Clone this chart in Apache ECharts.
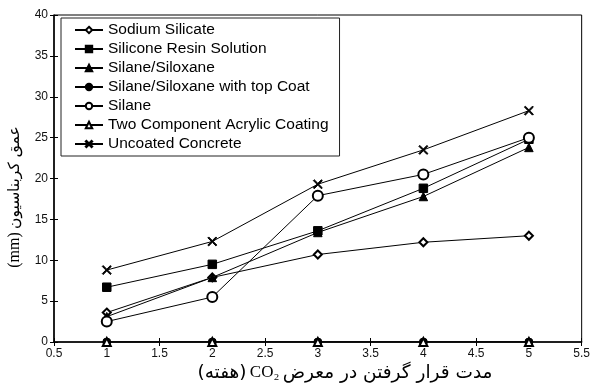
<!DOCTYPE html>
<html><head><meta charset="utf-8">
<script src="https://cdn.jsdelivr.net/npm/echarts@6/dist/echarts.min.js"></script>
<style>html,body{margin:0;padding:0;background:#fff}#c{width:593px;height:387px}</style>
</head><body><div id="c"></div>
<script>
const weeks = [1, 2, 3, 4, 5];
const sodiumSilicate = [3.6, 7.9, 10.7, 12.2, 13.0];
const siliconeResin = [6.7, 9.5, 13.6, 18.8, 24.8];
const silaneSiloxane = [3.1, 7.9, 13.4, 17.8, 23.8];
const silaneSiloxaneTopCoat = [0, 0, 0, 0, 0];
const silane = [2.5, 5.5, 17.9, 20.5, 25.0];
const acrylicCoating = [0, 0, 0, 0, 0];
const uncoatedConcrete = [8.8, 12.3, 19.3, 23.5, 28.3];
const seriesNames = ['Sodium Silicate', 'Silicone Resin Solution', 'Silane/Siloxane',
  'Silane/Siloxane with top Coat', 'Silane', 'Two Component Acrylic Coating', 'Uncoated Concrete'];

const xPath = 'path://M0,1L1,0L5,4L9,0L10,1L6,5L10,9L9,10L5,6L1,10L0,9L4,5Z';
const defs = [
  [sodiumSilicate, 'emptyDiamond', 8],
  [siliconeResin, 'rect', 8.5],
  [silaneSiloxane, 'triangle', 8.5],
  [silaneSiloxaneTopCoat, 'circle', 8],
  [silane, 'emptyCircle', 10],
  [acrylicCoating, 'emptyTriangle', 8],
  [uncoatedConcrete, xPath, 9]
];
const pair = arr => weeks.map((w, i) => [w, arr[i]]);

const chart = echarts.init(document.getElementById('c'), null, {renderer: 'canvas'});
const axisFont = {fontFamily: 'Liberation Sans, Arial', fontSize: 12, color: '#111'};
chart.setOption({
  animation: false,
  grid: {left: 54, right: 7, top: 15, bottom: 45, show: true, borderColor: '#000', borderWidth: 1},
  legend: {
    orient: 'vertical', left: 61, top: 18,
    padding: [3, 11, 3, 13], itemGap: 1, itemWidth: 28, itemHeight: 8,
    backgroundColor: '#fff', borderColor: '#222', borderWidth: 1,
    textStyle: {fontFamily: 'Liberation Sans, Arial', fontSize: 15.5, color: '#000', lineHeight: 18},
    data: seriesNames
  },
  xAxis: [{
    type: 'value', min: 0.5, max: 5.5, interval: 0.5,
    axisLine: {lineStyle: {color: '#000', width: 1.5}},
    axisTick: {length: 4, lineStyle: {color: '#000'}},
    axisLabel: Object.assign({margin: 6}, axisFont),
    splitLine: {show: false}
  }, {
    type: 'value', min: 0.5, max: 5.5, interval: 0.5, position: 'bottom',
    axisLine: {show: false}, axisLabel: {show: false},
    axisTick: {inside: true, length: 4, lineStyle: {color: '#000'}},
    splitLine: {show: false}
  }],
  yAxis: [{
    type: 'value', min: 0, max: 40, interval: 5,
    axisLine: {show: true, lineStyle: {color: '#000', width: 1.5}},
    axisTick: {show: true, length: 4, lineStyle: {color: '#000'}},
    axisLabel: Object.assign({margin: 6}, axisFont),
    splitLine: {show: false}
  }, {
    type: 'value', min: 0, max: 40, interval: 5, position: 'left',
    axisLine: {show: false}, axisLabel: {show: false},
    axisTick: {show: true, inside: true, length: 4, lineStyle: {color: '#000'}},
    splitLine: {show: false}
  }],
  graphic: [{
    type: 'text', x: 345, y: 373,
    style: {
      text: '{a|(هفته)} {c|CO₂} {b|مدت قرار گرفتن در معرض}',
      align: 'center', verticalAlign: 'middle',
      rich: {
        a: {fontFamily: 'DejaVu Sans', fontSize: 18.5, fill: '#000'},
        b: {fontFamily: 'DejaVu Sans', fontSize: 18.5, fill: '#000'},
        c: {fontFamily: 'Liberation Serif', fontSize: 17, fill: '#000'}
      }
    }
  }, {
    type: 'text', x: 15, y: 197, rotation: Math.PI / 2,
    style: {
      text: '{a|(mm)} {b|عمق کربناسیون}',
      align: 'center', verticalAlign: 'middle',
      rich: {
        a: {fontFamily: 'Liberation Serif', fontSize: 16, fill: '#000'},
        b: {fontFamily: 'DejaVu Sans', fontSize: 15.5, fill: '#000'}
      }
    }
  }],
  series: defs.map((d, i) => ({
    name: seriesNames[i], type: 'line', xAxisIndex: 0, yAxisIndex: 0,
    data: pair(d[0]), symbol: d[1], symbolSize: d[2],
    lineStyle: {color: '#000', width: 1},
    itemStyle: {color: '#000', borderColor: '#000', borderWidth: 1},
    emphasis: {disabled: true}
  }))
});
</script></body></html>
